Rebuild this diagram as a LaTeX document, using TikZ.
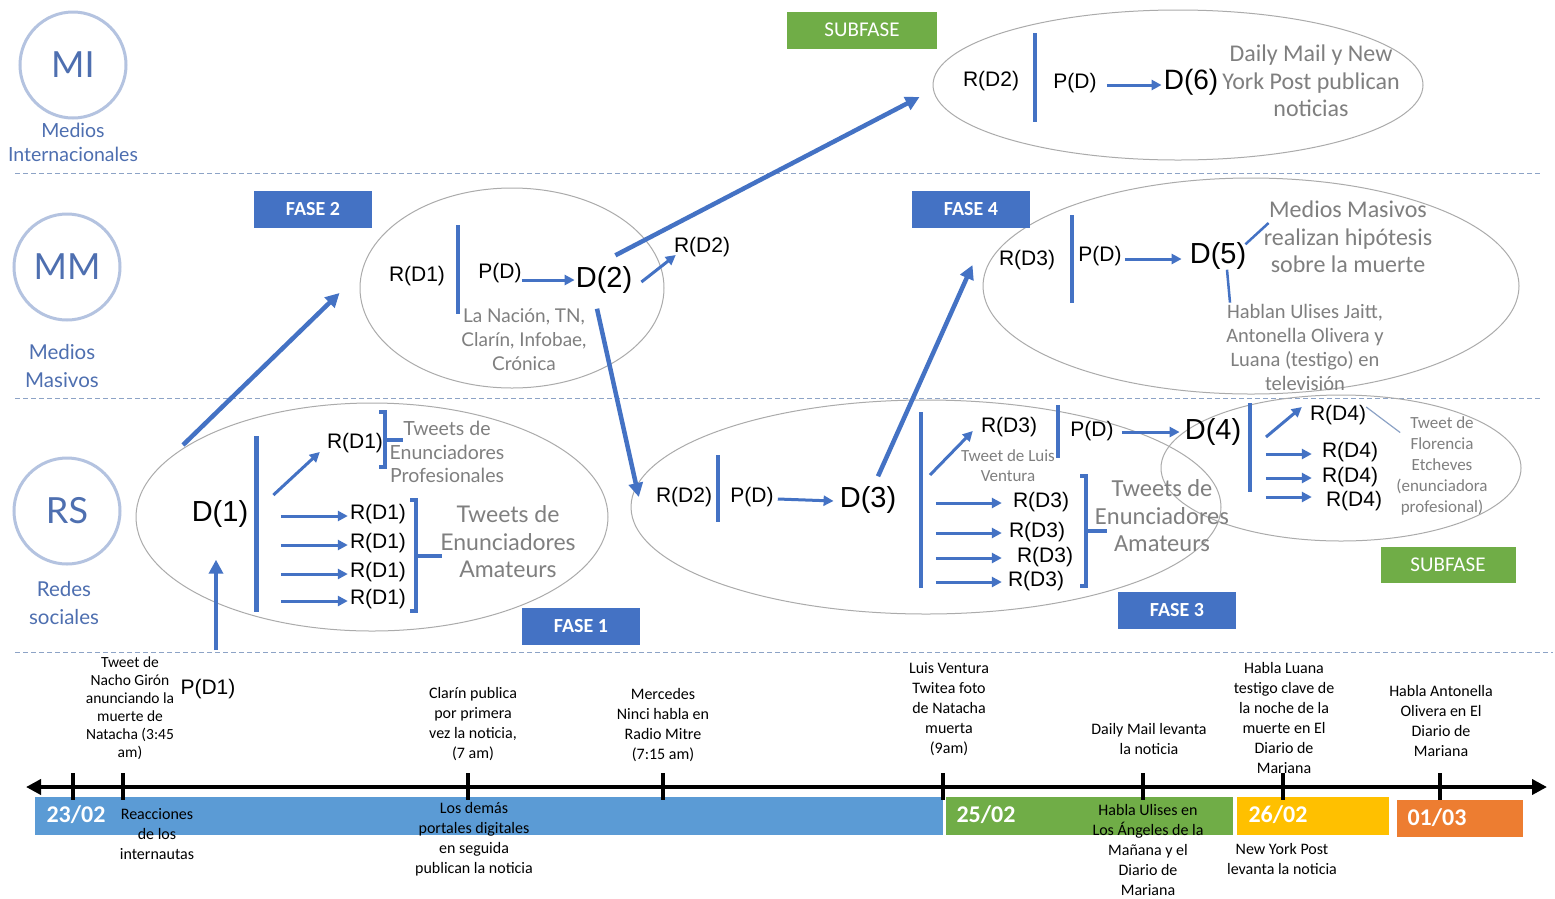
\documentclass[tikz,border=0pt]{standalone}
\usepackage{fontspec}
\setmainfont{Liberation Sans}
\newfontfamily\gillf{Lato}
\newfontfamily\calif{Carlito}
\usetikzlibrary{arrows.meta,shapes.geometric}
\definecolor{myblue}{HTML}{4472C4}
\definecolor{lblue}{HTML}{5B9BD5}
\definecolor{circblue}{HTML}{B4C3E0}
\definecolor{lblcol}{HTML}{4E6FB0}
\definecolor{mygreen}{HTML}{70AD47}
\definecolor{myyellow}{HTML}{FFC000}
\definecolor{myorange}{HTML}{ED7D31}
\definecolor{txtgray}{HTML}{7F7F7F}
\definecolor{ellgray}{HTML}{ABABAB}
\definecolor{dashcol}{HTML}{8DA3C6}
\newcommand\fsz[2]{\fontsize{#1}{#2}\selectfont}
\newcommand\mybrack[4]{%
  \draw[bar,line cap=butt] ({#1-6},#2) -- (#1,#2) -- (#1,#3) -- ({#1-6},#3);
  \draw[bar,line cap=butt] (#1,{(#2+#3)/2}) -- (#4,{(#2+#3)/2});}
\begin{document}
\begin{tikzpicture}[x=1pt,y=-1pt,
  lvl/.style={circle,draw=circblue,line width=3pt,minimum size=106pt,inner sep=0,text=lblcol,font=\gillf\fsz{36}{36}},
  lvltxt/.style={text=lblcol,align=center,inner sep=0},
  sepline/.style={dashcol,line width=1pt,dash pattern=on 5pt off 3pt},
  ell/.style={ellipse,draw=ellgray,line width=1pt,inner sep=0},
  fasebox/.style={fill=myblue,text=white,font=\calif\bfseries\fsz{20}{20},minimum width=118pt,minimum height=37pt,inner sep=0},
  subbox/.style={fill=mygreen,text=white,font=\calif\fsz{21}{21},minimum width=150pt,minimum height=37pt,inner sep=0},
  lab/.style={font=\fsz{21}{21},inner sep=0},
  big/.style={font=\fsz{29}{29},inner sep=0},
  gtxt/.style={text=txtgray,align=center,inner sep=0},
  arr/.style={myblue,line width=4.5pt,-{Triangle[length=14pt,width=14pt]}},
  sarr/.style={myblue,line width=3pt,-{Triangle[length=10pt,width=10pt]}},
  bar/.style={myblue,line width=4pt},
  thinl/.style={myblue,line width=2.5pt},
  tl/.style={font=\calif\fsz{16}{20},align=center,inner sep=0},
  datebox/.style={inner sep=0},
  datelbl/.style={text=white,font=\calif\bfseries\fsz{24}{24},inner sep=0}
]
\useasboundingbox (0,0) rectangle (1555,898);
\fill[white] (0,0) rectangle (1555,898);

% level circles
\node[lvl] (mi) at (73,65) {MI};
\node[lvltxt,font=\gillf\fsz{19.5}{24}] (mit) at (73,142) {Medios\\Internacionales};
\node[lvl] (mm) at (67,267) {MM};
\node[lvltxt,font=\gillf\fsz{20.5}{28}] (mmt) at (62,366) {Medios\\Masivos};
\node[lvl] (rs) at (67,511) {RS};
\node[lvltxt,font=\gillf\fsz{20.5}{28}] (rst) at (64,603) {Redes\\sociales};

% separators
\draw[sepline] (15,173) -- (1540,173);
\draw[sepline] (15,398) -- (1540,398);
\draw[sepline] (15,652) -- (1553,652);

% ellipses
\node[ell,minimum width=490pt,minimum height=150pt] (e6) at (1178,85) {};
\node[ell,minimum width=304pt,minimum height=200pt] (e2) at (512,288) {};
\node[ell,minimum width=536pt,minimum height=216pt] (e4) at (1251,286) {};
\node[ell,minimum width=472pt,minimum height=228pt] (e1) at (372,517) {};
\node[ell,minimum width=590pt,minimum height=214pt] (e3) at (926,507) {};
\node[ell,minimum width=360pt,minimum height=146pt] (e5) at (1341,468) {};

% phase boxes
\node[subbox] (sub1) at (862,30) {SUBFASE};
\node[fasebox] (f2) at (313,209) {FASE 2};
\node[fasebox] (f4) at (971,209) {FASE 4};
\node[fasebox] (f1) at (581,626) {FASE 1};
\node[fasebox] (f3) at (1177,610) {FASE 3};
\node[subbox,minimum width=135pt,minimum height=36pt] (sub2) at (1448,565) {SUBFASE};

% ---- MI ellipse
\node[lab] (rd2a) at (991,81) {R(D2)};
\draw[bar] (1035,33) -- (1035,122);
\node[lab] (pd6) at (1075,83) {P(D)};
\node[big,font=\fsz{28}{28}] (d6) at (1191,82) {D(6)};
\draw[sarr] ([xshift=10pt,yshift=-2pt]pd6.east) -- ([xshift=-2pt,yshift=-3pt]d6.west);
\node[gtxt,font=\calif\fsz{24}{27.5}] (dmtxt) at (1311,81) {Daily Mail y New\\York Post publican\\noticias};

% ---- MM left ellipse
\node[lab] (rd1m) at (417,276) {R(D1)};
\draw[bar] (458,225) -- (458,314);
\node[lab] (pdm) at (500,273) {P(D)};
\node[big,font=\fsz{29}{29}] (d2) at (604,280) {D(2)};
\draw[sarr] ([yshift=-7pt]pdm.east) -- ([xshift=-1pt]d2.west);
\node[gtxt,font=\gillf\fsz{19}{24}] (medios) at (524,340) {La Nación, TN,\\Clarín, Infobae,\\Crónica};
\node[lab] (rd2m) at (702,247) {R(D2)};
\draw[sarr] ([xshift=9pt,yshift=-2pt]d2.east) -- ([xshift=2pt,yshift=2pt]rd2m.south west);

% ---- MM right ellipse
\node[lab] (rd3m) at (1027,260) {R(D3)};
\draw[bar] (1072,215) -- (1072,303);
\node[lab] (pdm2) at (1100,256) {P(D)};
\node[big] (d5) at (1218,256) {D(5)};
\draw[sarr] ([xshift=3pt,yshift=-3pt]pdm2.east) -- ([xshift=-8pt,yshift=-3pt]d5.west);
\node[gtxt,font=\calif\fsz{24}{27.5}] (hipo) at (1348,237) {Medios Masivos\\realizan hipótesis\\sobre la muerte};
\node[gtxt,font=\calif\fsz{20.5}{24}] (hab) at (1305,347) {Hablan Ulises Jaitt,\\Antonella Olivera y\\Luana (testigo) en\\televisión};
\draw[thinl] ([xshift=-1pt,yshift=-2pt]d5.north east) -- ([shift={(5pt,14pt)}]hipo.west);
\draw[thinl] ([xshift=9pt]d5.south) -- ([xshift=-75pt,yshift=1pt]hab.north);

% ---- RS ellipse 1
\node[big] (d1) at (220,514) {D(1)};
\draw[bar,line width=5pt] (256,436) -- (256,612);
\node[lab] (rd1p) at (355,443) {R(D1)};
\draw[sarr] ([shift={(25pt,19pt)}]d1.east) -- ([shift={(-7pt,1pt)}]rd1p.south west);
\mybrack{385}{412}{467}{403}
\node[gtxt,font=\gillf\fsz{19.5}{23.5}] (prof) at (447,452) {Tweets de\\Enunciadores\\Profesionales};
\node[lab] (rda) at (378,514) {R(D1)};
\node[lab] (rdb) at (378,543) {R(D1)};
\node[lab] (rdc) at (378,572) {R(D1)};
\node[lab] (rdd) at (378,599) {R(D1)};
\foreach \n in {rda,rdb,rdc,rdd}
  \draw[sarr] ([xshift=-69pt,yshift=-2pt]\n.west) -- ([xshift=-2pt,yshift=-2pt]\n.west);
\mybrack{416}{500}{611}{442}
\node[gtxt,font=\gillf\fsz{23}{27.5}] (amat1) at (508,542) {Tweets de\\Enunciadores\\Amateurs};
\node[lab] (pd1) at (208,689) {P(D1)};
\draw[arr,line width=4pt] ([shift={(8pt,29pt)}]pd1.north) -- ([shift={(-4pt,-32pt)}]d1.south);

% ---- RS ellipse 2
\node[lab] (rd2r) at (684,497) {R(D2)};
\draw[bar] (718,455) -- (718,522);
\node[lab] (pdr) at (752,497) {P(D)};
\node[big] (d3) at (868,500) {D(3)};
\draw[sarr] ([xshift=4pt,yshift=-2pt]pdr.east) -- ([xshift=-6pt,yshift=-1pt]d3.west);
\draw[bar] (921,412) -- (921,588);
\coordinate (s3) at (930,475);
\node[lab] (rd3t) at (1009,427) {R(D3)};
\draw[sarr] (s3) -- ([shift={(-8pt,6pt)}]rd3t.south west);
\node[gtxt,font=\calif\fsz{17}{20}] (luis) at (1008,466) {Tweet de Luis\\Ventura};
\draw[bar] (1058,405) -- (1058,458);
\node[lab] (pdt) at (1092,431) {P(D)};
\node[big] (d4) at (1213,432) {D(4)};
\draw[sarr] ([xshift=8pt,yshift=-1pt]pdt.east) -- ([xshift=-5pt]d4.west);
\node[lab] (rd3a) at (1041,502) {R(D3)};
\node[lab] (rd3b) at (1037,532) {R(D3)};
\node[lab] (rd3c) at (1045,557) {R(D3)};
\node[lab] (rd3d) at (1036,581) {R(D3)};
\draw[sarr] ([xshift=-77pt,yshift=-1pt]rd3a.west) -- ([xshift=-11pt,yshift=-1pt]rd3a.west);
\draw[sarr] ([xshift=-73pt,yshift=-1pt]rd3b.west) -- ([xshift=-7pt,yshift=-1pt]rd3b.west);
\draw[sarr] ([xshift=-81pt,yshift=-1pt]rd3c.west) -- ([xshift=-15pt,yshift=-1pt]rd3c.west);
\draw[sarr] ([xshift=-72pt,yshift=-1pt]rd3d.west) -- ([xshift=-6pt,yshift=-1pt]rd3d.west);
\mybrack{1086}{476}{586}{1107}
\node[gtxt,font=\calif\fsz{24.5}{27.5}] (amat2) at (1162,516) {Tweets de\\Enunciadores\\Amateurs};

% ---- Subfase ellipse
\draw[bar] (1250,403) -- (1250,492);
\coordinate (s5) at (1266,437);
\node[lab] (rd4t) at (1338,415) {R(D4)};
\draw[sarr] (s5) -- ([shift={(-8pt,8pt)}]rd4t.west);
\node[gtxt,font=\calif\fsz{17}{21}] (flo) at (1442,466) {Tweet de\\Florencia\\Etcheves\\(enunciadora\\profesional)};
\draw[dashcol,line width=1.2pt] ([yshift=-2pt]rd4t.north east) -- ([shift={(4pt,-16pt)}]flo.north west);
\node[lab] (rd4a) at (1350,452) {R(D4)};
\node[lab] (rd4b) at (1350,477) {R(D4)};
\node[lab] (rd4c) at (1354,501) {R(D4)};
\draw[sarr] ([xshift=-56pt,yshift=-2pt]rd4a.west) -- ([xshift=-10pt,yshift=-2pt]rd4a.west);
\draw[sarr] ([xshift=-56pt,yshift=-1pt]rd4b.west) -- ([xshift=-10pt,yshift=-1pt]rd4b.west);
\draw[sarr] ([xshift=-60pt,yshift=4pt]rd4c.west) -- ([xshift=-14pt,yshift=4pt]rd4c.west);

% ---- long inter-level arrows
\coordinate (s1) at (183,445);
\draw[arr] (s1) -- ([shift={(-20pt,-5pt)}]e2.west);
\draw[arr] ([shift={(-17pt,11pt)}]d2.north east) -- ([shift={(-13pt,-12pt)}]e6.west);
\draw[arr] ([shift={(-7pt,-15pt)}]d2.south) -- ([xshift=-17pt]rd2r.west);
\draw[arr] ([shift={(10pt,10pt)}]d3.north) -- ([shift={(-10pt,21pt)}]e4.west);

% ---- timeline
\node[datebox,fill=lblue,minimum width=908pt,minimum height=38pt] (b1) at (489,816) {};
\node[datebox,fill=mygreen,minimum width=287pt,minimum height=38pt] (b2) at (1089.5,816) {};
\node[datebox,fill=myyellow,minimum width=152pt,minimum height=38pt] (b3) at (1313,816) {};
\node[datebox,fill=myorange,minimum width=126pt,minimum height=37pt] (b4) at (1460,818.5) {};
\node[datelbl] (d2302) at (76,815) {23/02};
\node[datelbl] (d2502) at (986,815) {25/02};
\node[datelbl] (d2602) at (1278,815) {26/02};
\node[datelbl] (d0103) at (1437,818) {01/03};

\coordinate (tl0) at (26,787);
\coordinate (tl1) at (1547,787);
\draw[black,line width=4pt,{Triangle[length=15pt,width=15pt]}-{Triangle[length=15pt,width=15pt]}] (tl0) -- (tl1);
\foreach \x in {73,123,468,663,943,1143,1283,1440}
  \draw[black,line width=3.5pt] (\x,773) -- (\x,800);

\node[tl,font=\calif\fsz{15.5}{18}] (t1) at (130,708) {Tweet de\\Nacho Girón\\anunciando la\\muerte de\\Natacha (3:45\\am)};
\node[tl] (t2) at (157,834) {Reacciones\\de los\\internautas};
\node[tl] (t3) at (473,724) {Clarín publica\\por primera\\vez la noticia,\\(7 am)};
\node[tl] (t4) at (474,839) {Los demás\\portales digitales\\en seguida\\publican la noticia};
\node[tl] (t5) at (663,725) {Mercedes\\Ninci habla en\\Radio Mitre\\(7:15 am)};
\node[tl] (t6) at (949,709) {Luis Ventura\\Twitea foto\\de Natacha\\muerta\\(9am)};
\node[tl] (t7) at (1149,739) {Daily Mail levanta\\la noticia};
\node[tl] (t8) at (1148,850) {Habla Ulises en\\Los Ángeles de la\\Mañana y el\\Diario de\\Mariana};
\node[tl] (t9) at (1284,718) {Habla Luana\\testigo clave de\\la noche de la\\muerte en El\\Diario de\\Mariana};
\node[tl] (t10) at (1282,859) {New York Post\\levanta la noticia};
\node[tl] (t11) at (1441,721) {Habla Antonella\\Olivera en El\\Diario de\\Mariana};
\end{tikzpicture}
\end{document}
